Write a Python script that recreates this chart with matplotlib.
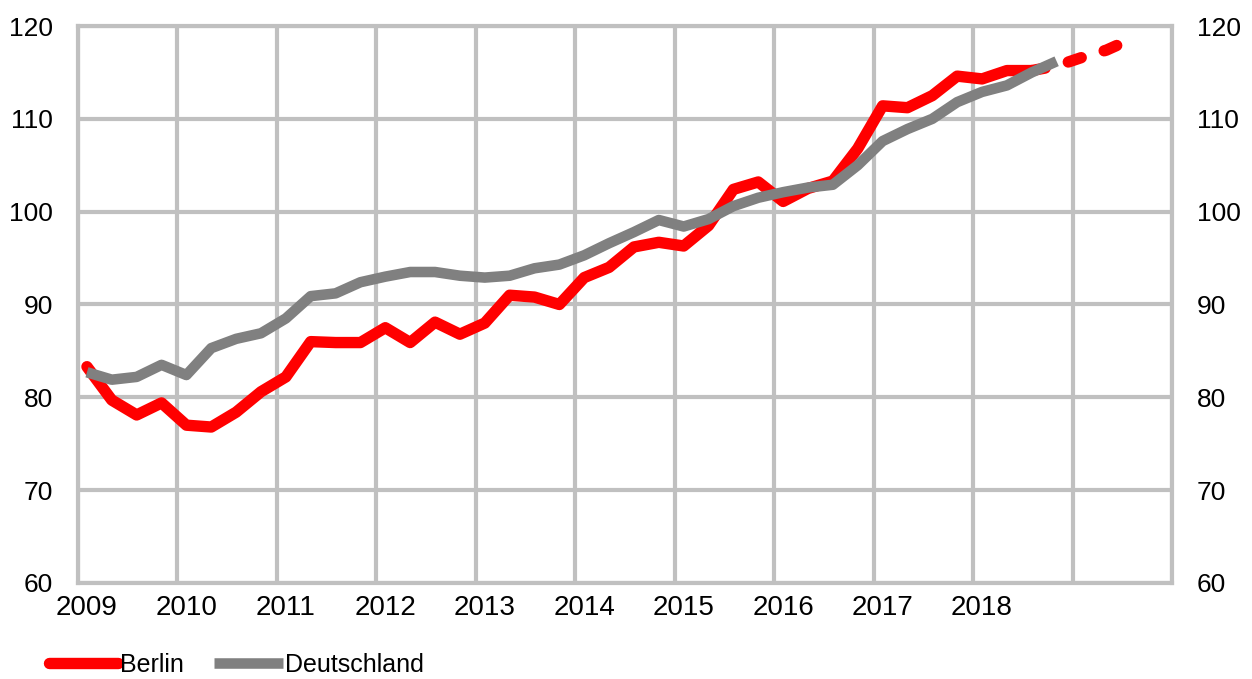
import numpy as np
import matplotlib
matplotlib.use("Agg")
import matplotlib.pyplot as plt

plt.rcParams['font.family'] = ['Liberation Sans', 'DejaVu Sans']

# Quartalswerte, Index (2015 = 100), 2009 Q1 ...
berlin = [83.3, 79.7, 78.1, 79.4, 77.0, 76.8, 78.4, 80.6,
          82.2, 86.0, 85.9, 85.9, 87.5, 85.9, 88.1, 86.8,
          88.0, 91.0, 90.8, 90.0, 92.9, 94.0, 96.2, 96.7,
          96.3, 98.5, 102.4, 103.2, 101.1, 102.5, 103.3, 106.8,
          111.4, 111.2, 112.5, 114.6, 114.3, 115.2, 115.2]
# Prognose Berlin (ab 2018 Q3)
berlin_prog = [115.2, 115.7, 116.6, 117.4, 118.6]
deutschland = [82.7, 81.9, 82.2, 83.5, 82.4, 85.3, 86.3, 86.9,
               88.5, 90.9, 91.2, 92.4, 93.0, 93.5, 93.5, 93.1,
               92.9, 93.1, 93.9, 94.3, 95.3, 96.6, 97.8, 99.1,
               98.4, 99.2, 100.6, 101.5, 102.1, 102.6, 102.9, 105.0,
               107.6, 108.9, 110.0, 111.8, 112.9, 113.6, 115.0, 116.2]
years = ['2009', '2010', '2011', '2012', '2013', '2014', '2015',
         '2016', '2017', '2018']
n_quarters = 44

grid_col = '#C0C0C0'

fig = plt.figure(figsize=(12.52, 6.79), dpi=100)
ax = fig.add_axes([0.0623, 0.1414, 0.9361 - 0.0623, 0.9617 - 0.1414])

x_b = np.arange(len(berlin))
x_p = np.arange(len(berlin) - 1, len(berlin) - 1 + len(berlin_prog))
x_d = np.arange(len(deutschland))

ax.plot(x_b, berlin, color='#FF0000', lw=8.2, solid_capstyle='round',
        solid_joinstyle='round', label='Berlin', zorder=3)
ax.plot(x_p, berlin_prog, color='#FF0000', lw=8.2, dashes=(1.2, 2.1),
        dash_capstyle='round', dash_joinstyle='round', zorder=3)
ax.plot(x_d, deutschland, color='#808080', lw=7.6, solid_capstyle='butt',
        solid_joinstyle='round', label='Deutschland', zorder=4)

off = -0.36
ax.set_xlim(off, off + n_quarters)
ax.set_ylim(60, 120)
ax.set_yticks(np.arange(60, 121, 10))
ax.set_xticks(np.arange(len(years)) * 4)
ax.set_xticklabels(years)
ax.set_xticks(off + np.arange(0, n_quarters + 1, 4), minor=True)

ax.grid(which='minor', axis='x', color=grid_col, lw=3)
ax.grid(which='major', axis='y', color=grid_col, lw=3)
ax.set_axisbelow(True)
for s in ax.spines.values():
    s.set_color(grid_col)
    s.set_linewidth(3)

ax.tick_params(axis='both', which='both', length=0)
ax.tick_params(axis='y', labelsize=19, labelleft=True, labelright=True, pad=18)
ax.tick_params(axis='x', labelsize=20, pad=9)

leg = fig.legend(loc='center left', bbox_to_anchor=(0.039, 0.021),
                 ncol=2, frameon=False, fontsize=18, handlelength=2.75,
                 handletextpad=0.1, columnspacing=1.2, borderpad=0,
                 borderaxespad=0)

fig.savefig('out.png', dpi=100)
